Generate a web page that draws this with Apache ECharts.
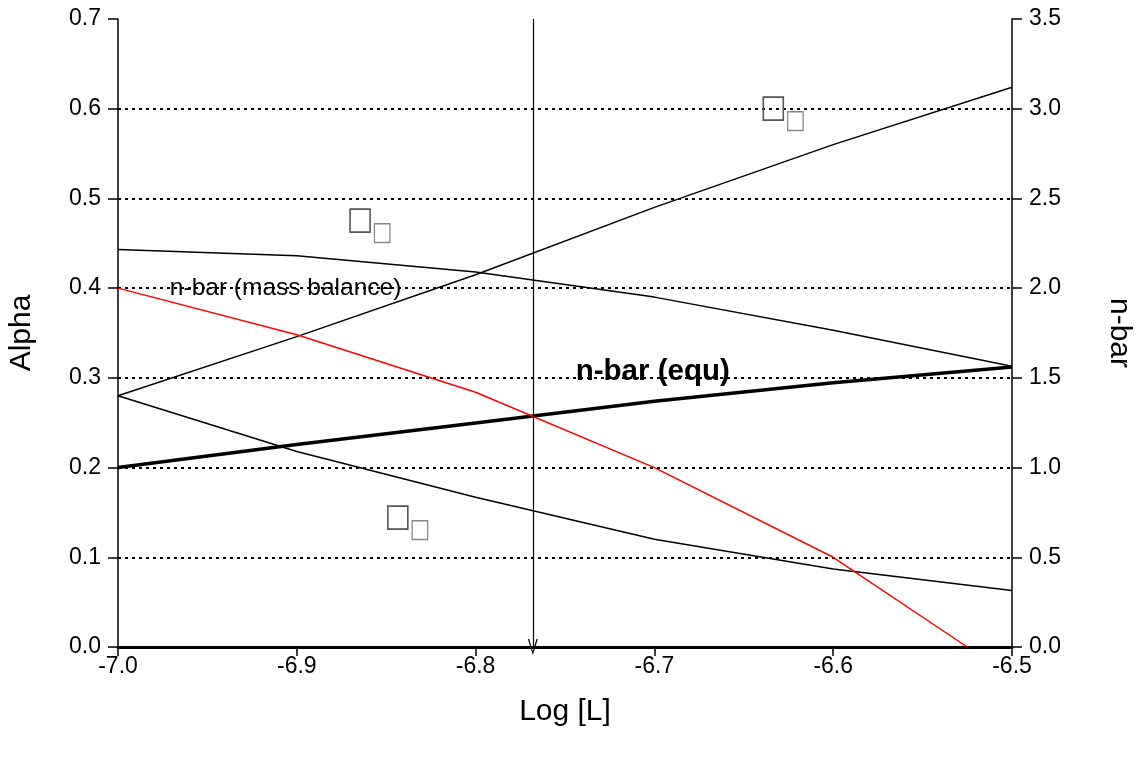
<!DOCTYPE html>
<html>
<head>
<meta charset="utf-8">
<script src="https://cdn.jsdelivr.net/npm/echarts@6/dist/echarts.min.js"></script>
<style>
  html, body { margin: 0; padding: 0; background: #fff; }
  #myEcharts { width: 1138px; height: 757px; }
</style>
</head>
<body>
<div id="myEcharts"></div>
<script>
// log [L] points
const logL = [-7.0, -6.9, -6.8, -6.7, -6.6, -6.5];
// fractions (left axis)
const alpha0 = [0.28, 0.218, 0.167, 0.12, 0.087, 0.063];
const alpha1 = [0.443, 0.436, 0.418, 0.39, 0.353, 0.313];
const alpha2 = [0.28, 0.346, 0.415, 0.49, 0.56, 0.624];
// n-bar (right axis)
const nbarEqu = [1.0, 1.128, 1.248, 1.37, 1.473, 1.561];
const massX = [-7.0, -6.9, -6.8, -6.7, -6.6, -6.525];
const nbarMass = [2.0, 1.74, 1.42, 1.0, 0.5, 0.0];
const arrowX = -6.768;
const gridValues = [0.1, 0.2, 0.3, 0.4, 0.5, 0.6];

const FONT = "Liberation Sans";

function pairs(xs, ys) {
  return xs.map((x, i) => [x, ys[i]]);
}

const chartDom = document.getElementById("myEcharts");
const myChart = echarts.init(chartDom);
let option;

const thin = { color: "#000", width: 1.5 };
const tickLabel = {
  fontSize: 23,
  color: "#000",
  fontFamily: FONT,
  formatter: (v) => v.toFixed(1),
};

option = {
  animation: false,
  backgroundColor: "#fff",
  textStyle: { fontFamily: FONT },
  grid: { left: 118, right: 126, top: 19, bottom: 110, outerBoundsMode: "none", containLabel: false },
  xAxis: {
    type: "value",
    min: -7.0,
    max: -6.5,
    interval: 0.1,
    name: "Log [L]",
    nameLocation: "middle",
    nameGap: 50,
    nameTextStyle: { fontSize: 30, color: "#000", fontFamily: FONT },
    axisLine: { lineStyle: { color: "#000", width: 3 } },
    axisTick: { inside: false, length: 9, lineStyle: { color: "#000", width: 1.5 } },
    axisLabel: Object.assign({ margin: 8 }, tickLabel),
    splitLine: { show: false },
  },
  yAxis: [
    {
      type: "value",
      min: 0,
      max: 0.7,
      interval: 0.1,
      name: "Alpha",
      nameLocation: "middle",
      nameGap: 81,
      nameTextStyle: { fontSize: 30, color: "#000", fontFamily: FONT },
      axisLine: { show: true, lineStyle: { color: "#000", width: 1.5 } },
      axisTick: { show: true, length: 10, lineStyle: { color: "#000", width: 1.5 } },
      axisLabel: Object.assign({ margin: 17 }, tickLabel),
      splitLine: { show: false },
    },
    {
      type: "value",
      min: 0,
      max: 3.5,
      interval: 0.5,
      name: "n-bar",
      nameLocation: "middle",
      nameGap: 92,
      nameRotate: -90,
      nameTextStyle: { fontSize: 30, color: "#000", fontFamily: FONT },
      axisLine: { show: true, lineStyle: { color: "#000", width: 1.5 } },
      axisTick: { show: true, length: 10, lineStyle: { color: "#000", width: 1.5 } },
      axisLabel: Object.assign({ margin: 17 }, tickLabel),
      splitLine: { show: false },
    },
  ],
  series: [
    {
      name: "alpha0",
      type: "line",
      yAxisIndex: 0,
      showSymbol: false,
      data: pairs(logL, alpha0),
      lineStyle: thin,
      z: 3,
      markLine: {
        silent: true,
        symbol: ["none", "none"],
        label: { show: false },
        lineStyle: { color: "#000", type: [3, 4], width: 2 },
        data: gridValues.map((v) => ({ yAxis: v })),
        z: 1,
      },
    },
    {
      name: "alpha1",
      type: "line",
      yAxisIndex: 0,
      showSymbol: false,
      data: pairs(logL, alpha1),
      lineStyle: thin,
      z: 3,
    },
    {
      name: "alpha2",
      type: "line",
      yAxisIndex: 0,
      showSymbol: false,
      data: pairs(logL, alpha2),
      lineStyle: thin,
      z: 3,
      markLine: {
        silent: true,
        symbol: ["none", "path://M5,0 L10,14 L8.6,14 L5,3 L1.4,14 L0,14 Z"],
        symbolSize: [10, 16],
        label: { show: false },
        lineStyle: { color: "#000", type: "solid", width: 1.2 },
        data: [[{ coord: [arrowX, 0.7] }, { coord: [arrowX, 0] }]],
      },
    },
    {
      name: "n-bar (equ)",
      type: "line",
      yAxisIndex: 1,
      showSymbol: false,
      data: pairs(logL, nbarEqu),
      lineStyle: { color: "#000", width: 3.5 },
      z: 4,
    },
    {
      name: "n-bar (mass balance)",
      type: "line",
      yAxisIndex: 1,
      showSymbol: false,
      data: pairs(massX, nbarMass),
      lineStyle: { color: "#ff0000", width: 1.5 },
      z: 4,
    },
  ],
};

option && myChart.setOption(option);

// alpha labels (unrendered symbol glyphs in the original) placed in data coords
const boxAnchors = [
  [-6.641, 0.6],
  [-6.872, 0.475],
  [-6.851, 0.144],
];

const graphics = [];
boxAnchors.forEach((a) => {
  const p = myChart.convertToPixel({ xAxisIndex: 0, yAxisIndex: 0 }, a);
  graphics.push({
    type: "text",
    x: p[0],
    y: p[1],
    scaleY: 1.15,
    z: 10,
    style: {
      text: "□",
      fontSize: 28,
      fontFamily: "DejaVu Sans",
      fill: "#555",
      align: "left",
      verticalAlign: "middle",
    },
  });
  graphics.push({
    type: "text",
    x: p[0] + 25,
    y: p[1] + 12,
    scaleY: 1.2,
    z: 10,
    style: {
      text: "□",
      fontSize: 22,
      fontFamily: "DejaVu Sans",
      fill: "#888",
      align: "left",
      verticalAlign: "middle",
    },
  });
});

const pMass = myChart.convertToPixel({ xAxisIndex: 0, yAxisIndex: 0 }, [-6.971, 0.4]);
const pEqu = myChart.convertToPixel({ xAxisIndex: 0, yAxisIndex: 0 }, [-6.744, 0.307]);
graphics.push({
  type: "text",
  x: pMass[0],
  y: pMass[1],
  z: 10,
  style: {
    text: "n-bar (mass balance)",
    fontSize: 24.5,
    fontFamily: FONT,
    fill: "#000",
    align: "left",
    verticalAlign: "middle",
  },
});
graphics.push({
  type: "text",
  x: pEqu[0],
  y: pEqu[1],
  z: 10,
  style: {
    text: "n-bar (equ)",
    fontSize: 29.5,
    fontWeight: "bold",
    fontFamily: FONT,
    fill: "#000",
    align: "left",
    verticalAlign: "middle",
  },
});

myChart.setOption({ graphic: graphics });
</script>
</body>
</html>
